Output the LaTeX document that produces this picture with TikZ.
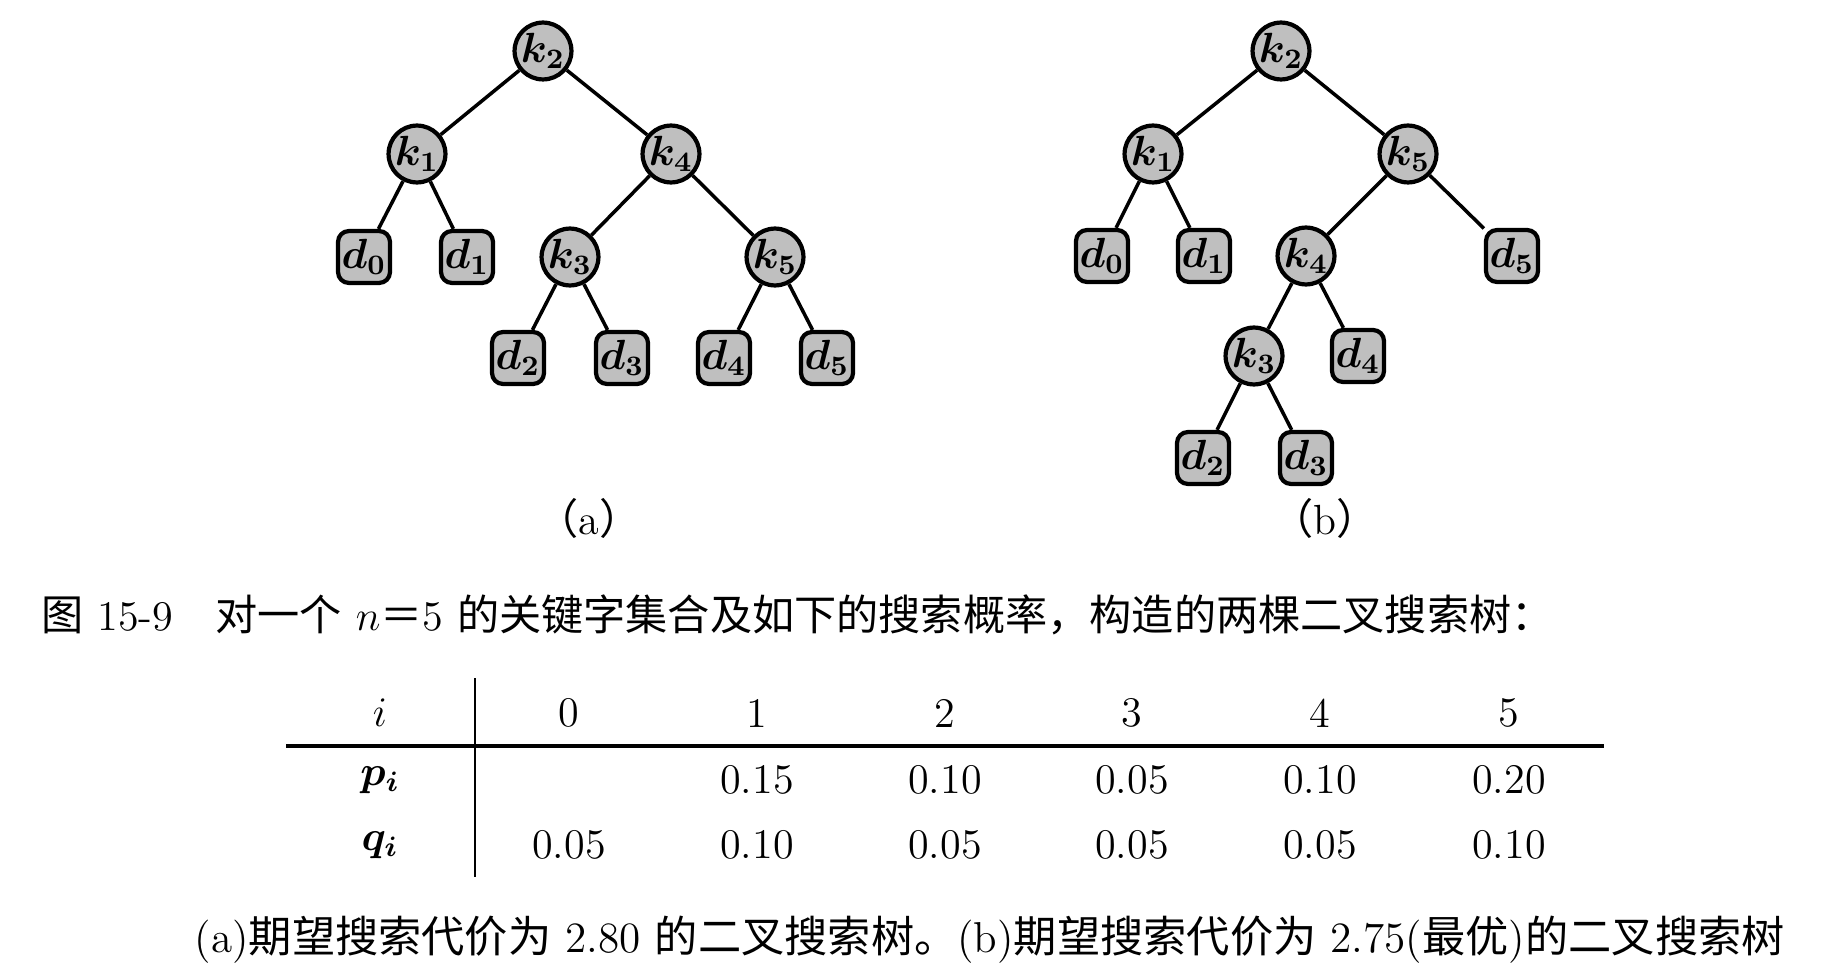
\documentclass[tikz,border=0pt]{standalone}
\usepackage{fontspec}
\usepackage{amsmath}
\newfontfamily\cjk{Noto Sans CJK SC}
\usetikzlibrary{positioning}

\begin{document}
\begin{tikzpicture}[x=0.1mm,y=-0.1mm,
  key/.style={circle,draw,line width=1.2pt,fill=gray!50,minimum size=5.4mm,inner sep=0pt,font=\fontsize{11.5}{12}\selectfont\boldmath},
  dummy/.style={rectangle,rounded corners=1.1mm,draw,line width=1.2pt,fill=gray!50,minimum size=5.2mm,inner sep=0pt,font=\fontsize{11.5}{12}\selectfont\boldmath},
  edge/.style={line width=1pt},
  txt/.style={font=\fontsize{12}{14}\selectfont,inner sep=0pt}]
\useasboundingbox (0,0) rectangle (1837,975);
% tree (a)
\node[key] (ak2) at (543,51) {$k_2$};
\node[key] (ak1) at (417,154) {$k_1$};
\node[key] (ak4) at (671,154) {$k_4$};
\node[dummy] (ad0) at (364,257) {$d_0$};
\node[dummy] (ad1) at (467,257) {$d_1$};
\node[key] (ak3) at (570,257) {$k_3$};
\node[key] (ak5) at (775,257) {$k_5$};
\node[dummy] (ad2) at (518,358) {$d_2$};
\node[dummy] (ad3) at (622,358) {$d_3$};
\node[dummy] (ad4) at (724,358) {$d_4$};
\node[dummy] (ad5) at (827,358) {$d_5$};
\foreach \p/\c in {ak2/ak1,ak2/ak4,ak1/ad0,ak1/ad1,ak4/ak3,ak4/ak5,ak3/ad2,ak3/ad3,ak5/ad4,ak5/ad5}
  \draw[edge] (\p) -- (\c);
\node[txt] (la) at (589,518) {{\cjk （}a{\cjk ）}};
% tree (b)
\node[key] (bk2) at (1281,51) {$k_2$};
\node[key] (bk1) at (1153,154) {$k_1$};
\node[key] (bk5) at (1408,154) {$k_5$};
\node[dummy] (bd0) at (1102,256) {$d_0$};
\node[dummy] (bd1) at (1204,256) {$d_1$};
\node[key] (bk4) at (1306,256) {$k_4$};
\node[dummy] (bd5) at (1512,256) {$d_5$};
\node[key] (bk3) at (1254,356) {$k_3$};
\node[dummy] (bd4) at (1358,356) {$d_4$};
\node[dummy] (bd2) at (1203,458) {$d_2$};
\node[dummy] (bd3) at (1306,458) {$d_3$};
\foreach \p/\c in {bk2/bk1,bk2/bk5,bk1/bd0,bk1/bd1,bk5/bk4,bk5/bd5,bk4/bk3,bk4/bd4,bk3/bd2,bk3/bd3}
  \draw[edge] (\p) -- (\c);
\node[txt] (lb) at (1325,518) {{\cjk （}b{\cjk ）}};
% caption
\node[txt,anchor=west] (cap) at (41,615) {{\cjk 图} 15-9\quad{\cjk 对一个} $n${\cjk ＝}5 {\cjk 的关键字集合及如下的搜索概率，构造的两棵二叉搜索树：}};
% table
\coordinate (vt) at (475,678);
\coordinate (vb) at (475,877);
\coordinate (hl) at (286,746);
\coordinate (hr) at (1604,746);
\draw[line width=0.6pt] (vt) -- (vb);
\draw[line width=1pt] (hl) -- (hr);
\node[txt] (ri) at (380,713) {$i$};
\node[txt] (rp) at (380,780) {$\boldsymbol{p_i}$};
\node[txt] (rq) at (380,845) {$\boldsymbol{q_i}$};
\foreach \x [count=\n from 0] in {569,757,945,1132,1320,1509}
  \node[txt] (c\n) at (\x,713) {\n};
\foreach \x/\v [count=\n] in {757/0.15,945/0.10,1132/0.05,1320/0.10,1509/0.20}
  \node[txt] (p\n) at (\x,780) {\v};
\foreach \x/\v [count=\n from 0] in {569/0.05,757/0.10,945/0.05,1132/0.05,1320/0.05,1509/0.10}
  \node[txt] (q\n) at (\x,845) {\v};
\node[txt,anchor=west,font=\fontsize{12.3}{14}\selectfont] (note) at (194,940) {(a){\cjk 期望搜索代价为} 2.80 {\cjk 的二叉搜索树。}(b){\cjk 期望搜索代价为} 2.75({\cjk 最优}){\cjk 的二叉搜索树}};
\end{tikzpicture}
\end{document}
